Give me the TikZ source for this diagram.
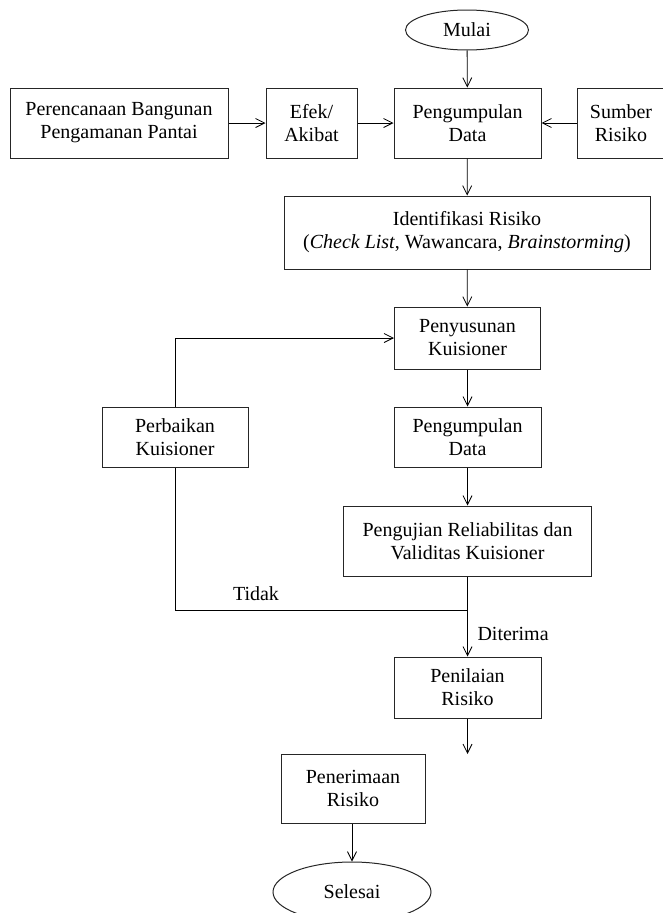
\documentclass[tikz,border=0pt]{standalone}
\usepackage{fontspec}
\setmainfont{Liberation Serif}
\usetikzlibrary{arrows.meta,shapes.geometric}
\begin{document}
\begin{tikzpicture}[x=1pt,y=-1pt,
  font=\fontsize{20}{23}\selectfont,
  box/.style={draw=black!85,line width=1pt,rectangle,inner sep=0pt,align=center},
  term/.style={draw=black!85,line width=1pt,ellipse,inner sep=0pt,align=center},
  flow/.style={draw=black,line width=0.8pt,-{Straight Barb[length=9pt,width=9pt,line width=0.8pt]}},
  plain/.style={draw=black,line width=0.8pt}]
\useasboundingbox (0,0) rectangle (663,913);
\node[term,minimum width=123pt,minimum height=40pt] (mulai) at (467,30) {Mulai};
\node[box,minimum width=218pt,minimum height=70pt] (renc) at (119,123) {Perencanaan Bangunan\\Pengamanan Pantai};
\node[box,minimum width=91pt,minimum height=70pt] (efek) at (311.5,123) {Efek/\\Akibat};
\node[box,minimum width=147pt,minimum height=70pt] (data1) at (467.5,123) {Pengumpulan\\Data};
\node[box,minimum width=88pt,minimum height=70pt] (sumber) at (621,123) {Sumber\\Risiko};
\node[box,minimum width=366pt,minimum height=73pt] (ident) at (467,232.5) {Identifikasi Risiko\\(\textit{Check List}, Wawancara, \textit{Brainstorming})};
\node[box,minimum width=146pt,minimum height=62pt] (susun) at (467.5,338) {Penyusunan\\Kuisioner};
\node[box,minimum width=146pt,minimum height=60pt] (perb) at (175,437) {Perbaikan\\Kuisioner};
\node[box,minimum width=147pt,minimum height=60pt] (data2) at (467.5,437) {Pengumpulan\\Data};
\node[box,minimum width=248pt,minimum height=70pt] (uji) at (467.5,541) {Pengujian Reliabilitas dan\\Validitas Kuisioner};
\node[box,minimum width=147pt,minimum height=61pt] (nilai) at (467.5,687.5) {Penilaian\\Risiko};
\node[box,minimum width=144pt,minimum height=69pt] (terima) at (353,788.5) {Penerimaan\\Risiko};
\node[term,minimum width=158pt,minimum height=60pt] (selesai) at (352,892) {Selesai};
\coordinate (junc) at (467.5,610);
\coordinate (free) at (467.5,754);
\node[anchor=center] (tidak) at (256,594) {Tidak};
\node[anchor=west] (diterima) at (474,634) {Diterima};
\draw[flow] (mulai) -- (data1);
\draw[flow] (renc) -- (efek);
\draw[flow] (efek) -- (data1);
\draw[flow] (sumber) -- (data1);
\draw[flow] (data1) -- (ident);
\draw[flow] (ident) -- (susun);
\draw[flow] (susun) -- (data2);
\draw[flow] (data2) -- (uji);
\draw[flow] (uji) -- (nilai);
\draw[plain] (junc) -| (perb.south);
\draw[flow] (perb.north) |- (susun.west);
\draw[flow] (nilai) -- (free);
\draw[flow] (terima.south -| selesai.north) -- (selesai.north);
\end{tikzpicture}
\end{document}
